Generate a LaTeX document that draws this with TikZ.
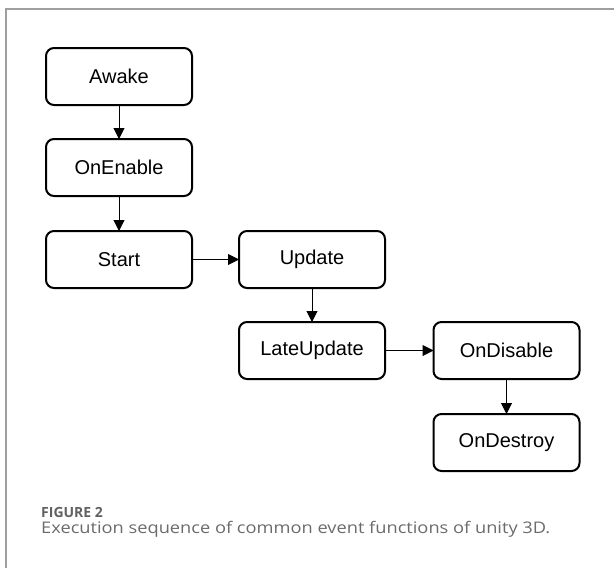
\documentclass[tikz,border=0pt]{standalone}
\usepackage{fontspec}
\setmainfont{Liberation Sans}
\newfontfamily\capfont[FakeStretch = 1.14]{Open Sans}
\newfontfamily\labfont{Open Sans}
\usepackage{tkz-graph}
\usetikzlibrary{arrows.meta}
\usetikzlibrary{shapes}

\begin{document}
\begin{tikzpicture}[x = 1pt, y = -1pt, font=\fontsize{20}{22}\selectfont]
	\tikzstyle{VertexStyle} = []
	\tikzstyle{EdgeStyle} = [-{Triangle[length=11pt, width=11pt]}, line width = 1pt]
	\tikzstyle{eventStyle}=[shape = rectangle, rounded corners = 8pt, minimum width = 146pt, minimum height = 57pt, line width = 2pt, draw]
	\useasboundingbox (0, 0) rectangle (614, 568);
	\draw[line width = 1.5pt, color = gray!75] (614, 9) -- (6, 9) -- (6, 568);
	\Vertex[style = eventStyle, x = 119, y = 76.5, L = {Awake}]{awake}
	\Vertex[style = eventStyle, x = 119, y = 167.5, L = {OnEnable}]{onenable}
	\Vertex[style = eventStyle, x = 119, y = 259.5, L = {Start}]{start}
	\Vertex[style = eventStyle, x = 312, y = 259.5, L = {Update}]{update}
	\Vertex[style = eventStyle, x = 312, y = 350.5, L = {LateUpdate}]{lateupdate}
	\Vertex[style = eventStyle, x = 506.5, y = 350.5, L = {OnDisable}]{ondisable}
	\Vertex[style = eventStyle, x = 506.5, y = 442.5, L = {OnDestroy}]{ondestroy}
	\Edge(awake)(onenable)
	\Edge(onenable)(start)
	\Edge(start)(update)
	\Edge(update)(lateupdate)
	\Edge(lateupdate)(ondisable)
	\Edge(ondisable)(ondestroy)
	\node[anchor = base west, inner sep = 0pt, text = black!62, font = \labfont\fontsize{14}{16}\selectfont\bfseries] (figlabel) at (41, 517) {FIGURE 2};
	\node[anchor = base west, inner sep = 0pt, text = black!58, font = \capfont\fontsize{16}{18}\selectfont] (caption) at (41, 533) {Execution sequence of common event functions of unity 3D.};
	\end{tikzpicture}
\end{document}
